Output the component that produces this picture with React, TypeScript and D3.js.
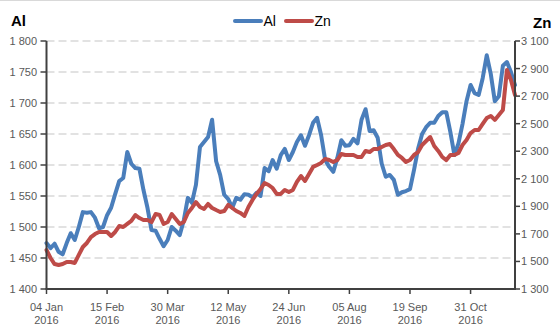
import React from "react";
import * as d3 from "d3";

const W = 560;
const H = 330;

// Sampled every 2 trading days, Jan 04 2016 -> early Dec 2016
const alValues = [
  1474, 1466, 1473, 1460, 1456, 1474, 1490, 1479, 1500, 1524,
  1523, 1524, 1515, 1498, 1500, 1519, 1531, 1553, 1574, 1579,
  1621, 1602, 1595, 1594, 1560, 1531, 1495, 1494, 1481, 1469,
  1479, 1500, 1494, 1487, 1511, 1547, 1539, 1568, 1629, 1637,
  1645, 1673, 1606, 1584, 1552, 1545, 1531, 1547, 1544, 1553,
  1552, 1548, 1555, 1550, 1595, 1590, 1608, 1594, 1616, 1626,
  1608, 1621, 1637, 1648, 1631, 1648, 1668, 1676, 1648, 1608,
  1597, 1589, 1611, 1640, 1631, 1632, 1642, 1635, 1673, 1690,
  1655, 1656, 1644, 1602, 1581, 1584, 1576, 1552, 1556, 1558,
  1561, 1592, 1626, 1650, 1661, 1668, 1668, 1679, 1685, 1685,
  1653, 1616, 1635, 1666, 1703, 1729, 1716, 1713, 1740, 1777,
  1747, 1703, 1711, 1760, 1766, 1750, 1729,
];

const znValues = [
  1583, 1525, 1481, 1474, 1481, 1496, 1496, 1489, 1547, 1605,
  1634, 1677, 1699, 1714, 1714, 1714, 1685, 1714, 1757, 1750,
  1772, 1794, 1837, 1815, 1801, 1801, 1786, 1844, 1837, 1772,
  1786, 1844, 1808, 1772, 1786, 1852, 1888, 1931, 1895, 1881,
  1917, 1888, 1873, 1859, 1866, 1910, 1888, 1866, 1852, 1830,
  1895, 1946, 1990, 2026, 2069, 2055, 2033, 1990, 1990, 2019,
  2004, 2019, 2077, 2120, 2084, 2135, 2186, 2200, 2215, 2244,
  2236, 2222, 2236, 2280, 2273, 2273, 2273, 2258, 2258, 2302,
  2294, 2316, 2316, 2331, 2345, 2352, 2316, 2273, 2251, 2222,
  2236, 2273, 2294, 2345, 2374, 2403, 2338, 2302, 2258, 2236,
  2273, 2273, 2287, 2345, 2381, 2432, 2454, 2454, 2498, 2541,
  2556, 2527, 2563, 2599, 2890, 2817, 2708,
];

const xTickLabels = [
  ["04 Jan", "2016"],
  ["15 Feb", "2016"],
  ["30 Mar", "2016"],
  ["12 May", "2016"],
  ["24 Jun", "2016"],
  ["05 Aug", "2016"],
  ["19 Sep", "2016"],
  ["31 Oct", "2016"],
];
const xTickEvery = 15;

const alTicks = [1400, 1450, 1500, 1550, 1600, 1650, 1700, 1750, 1800];
const znTicks = [1300, 1500, 1700, 1900, 2100, 2300, 2500, 2700, 2900, 3100];

const seriesNames = ["Al", "Zn"];
const colors = ["#4A7EBB", "#BE4B48"];

const locale = d3.formatLocale({
  decimal: ",",
  thousands: "\u00a0",
  grouping: [3],
  currency: ["", ""],
});
const fmt = locale.format(",");

export default function App() {
  const left = 46.5;
  const right = 515;
  const top = 41;
  const bottom = 289;

  const x = d3.scaleLinear().domain([0, alValues.length - 1]).range([left, right]);
  const yAl = d3.scaleLinear().domain([1400, 1800]).range([bottom, top]);
  const yZn = d3.scaleLinear().domain([1300, 3100]).range([bottom, top]);

  const lineAl = d3
    .line<number>()
    .x((_, i) => x(i))
    .y((d) => yAl(d));
  const lineZn = d3
    .line<number>()
    .x((_, i) => x(i))
    .y((d) => yZn(d));

  const font = "'Liberation Sans', Arial, sans-serif";
  const axisColor = "#404040";
  const labelColor = "#595959";

  return (
    <div style={{ position: "absolute", left: 0, top: 0, width: W, height: H, background: "#fff" }}>
      <svg width={W} height={H} style={{ display: "block", fontFamily: font }}>
        <rect x={0} y={0} width={W} height={H} fill="#fff" />
        <line x1={0} x2={W} y1={0.5} y2={0.5} stroke="#d9d9d9" strokeWidth={1} />

        {/* gridlines */}
        {alTicks
          .filter((t) => t !== 1400)
          .map((t) => (
            <line
              key={"g" + t}
              x1={left}
              x2={right}
              y1={yAl(t)}
              y2={yAl(t)}
              stroke="#d9d9d9"
              strokeWidth={1.5}
              strokeDasharray="8,4"
            />
          ))}

        {/* series */}
        <path d={lineAl(alValues) || ""} fill="none" stroke={colors[0]} strokeWidth={4} strokeLinejoin="round" strokeLinecap="round" />
        <path d={lineZn(znValues) || ""} fill="none" stroke={colors[1]} strokeWidth={4} strokeLinejoin="round" strokeLinecap="round" />

        {/* left axis */}
        <line x1={left} x2={left} y1={top} y2={bottom} stroke={axisColor} strokeWidth={2} />
        {alTicks.map((t) => (
          <g key={"la" + t}>
            <line x1={left - 6} x2={left} y1={yAl(t)} y2={yAl(t)} stroke={axisColor} strokeWidth={1.5} />
            <text x={37} y={yAl(t) + 4} textAnchor="end" fontSize={11} fill={labelColor}>
              {fmt(t)}
            </text>
          </g>
        ))}

        {/* right axis */}
        <line x1={right} x2={right} y1={top} y2={bottom} stroke={axisColor} strokeWidth={2} />
        {znTicks.map((t) => (
          <g key={"ra" + t}>
            <line x1={right} x2={right + 5} y1={yZn(t)} y2={yZn(t)} stroke={axisColor} strokeWidth={1.5} />
            <text x={521} y={yZn(t) + 4} textAnchor="start" fontSize={11} fill={labelColor}>
              {fmt(t)}
            </text>
          </g>
        ))}

        {/* bottom axis */}
        <line x1={left - 1} x2={right + 1} y1={bottom} y2={bottom} stroke={axisColor} strokeWidth={2} />
        {xTickLabels.map((lbl, k) => {
          const xx = x(k * xTickEvery);
          return (
            <g key={"xa" + k}>
              <line x1={xx} x2={xx} y1={bottom} y2={bottom + 5} stroke={axisColor} strokeWidth={1.5} />
              <text x={xx} y={311} textAnchor="middle" fontSize={11} fill={labelColor}>
                {lbl[0]}
              </text>
              <text x={xx} y={324} textAnchor="middle" fontSize={11} fill={labelColor}>
                {lbl[1]}
              </text>
            </g>
          );
        })}

        {/* axis titles */}
        <text x={11} y={26} fontSize={15} fontWeight="bold" fill="#000">
          Al
        </text>
        <text x={533} y={28} fontSize={15} fontWeight="bold" fill="#000">
          Zn
        </text>

        {/* legend */}
        {seriesNames.map((name, i) => {
          const lx = i === 0 ? 235 : 286;
          return (
            <g key={"lg" + name}>
              <line x1={lx} x2={lx + 26} y1={21} y2={21} stroke={colors[i]} strokeWidth={4} strokeLinecap="round" />
              <text x={lx + 28.5} y={26} fontSize={14} fill="#000">
                {name}
              </text>
            </g>
          );
        })}
      </svg>
    </div>
  );
}
